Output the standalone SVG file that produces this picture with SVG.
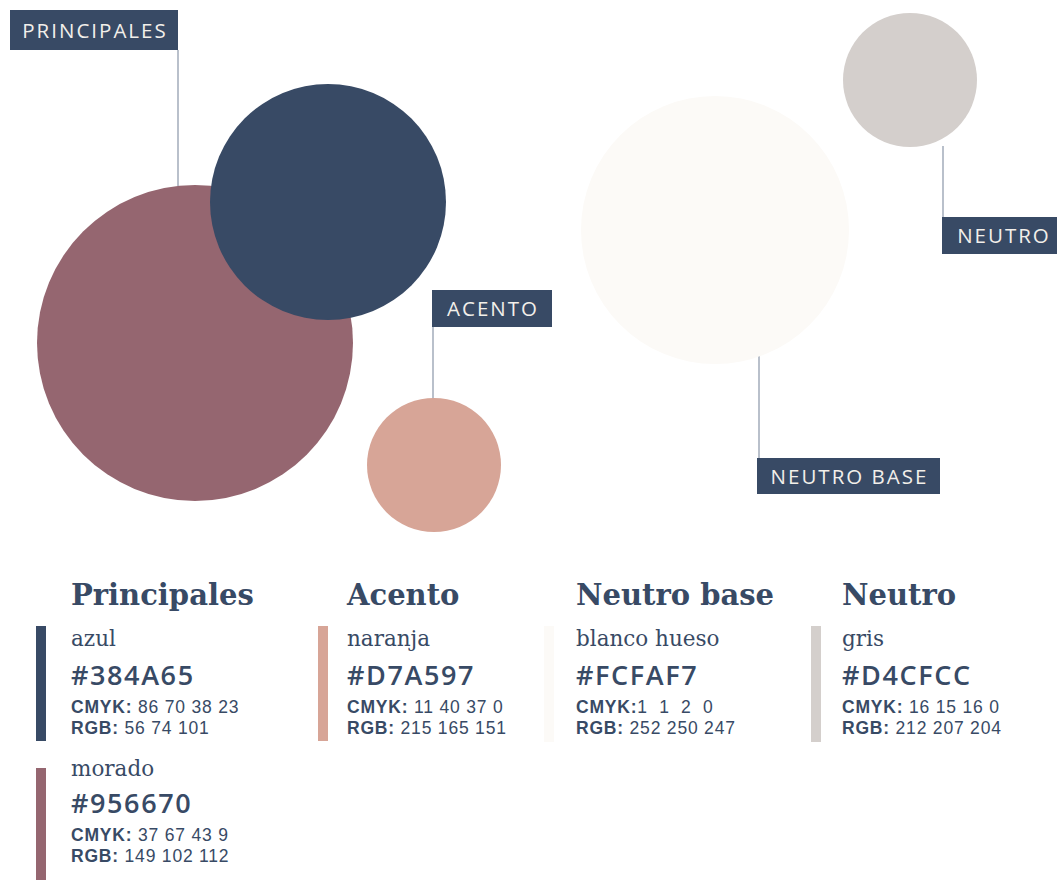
<svg xmlns="http://www.w3.org/2000/svg" width="1057" height="880" viewBox="0 0 1057 880">
<style>
.lbl{fill:#384A65}
.lt{font-family:"Open Sans","Liberation Sans",sans-serif;font-size:20.5px;fill:#F2EFEA;letter-spacing:2px}
.hd{font-family:"DejaVu Serif",serif;font-weight:bold;font-size:29px;fill:#384A65}
.nm{font-family:"DejaVu Serif",serif;font-size:21.5px;fill:#384A65}
.hx{font-family:"Open Sans","Liberation Sans",sans-serif;font-weight:600;font-size:27px;fill:#384A65;letter-spacing:1.6px}
.cd{font-family:"Liberation Sans","Open Sans",sans-serif;font-size:17.5px;fill:#384A65;letter-spacing:0.8px}
.cd tspan.b{font-weight:bold}
.cn{stroke:#8A96A8;stroke-width:1.2;fill:none}
</style>
<rect width="1057" height="880" fill="#FFFFFF"/>
<g id="connectors">
<line class="cn" x1="178" y1="50" x2="178" y2="186"/>
<line class="cn" x1="433" y1="327" x2="433" y2="399"/>
<line class="cn" x1="759" y1="356" x2="759" y2="458"/>
<line class="cn" x1="943" y1="146" x2="943" y2="218"/>
</g>
<g id="circle-morado"><circle cx="195" cy="343" r="158" fill="#956670"/></g>
<g id="circle-azul"><circle cx="328" cy="202" r="118" fill="#384A65"/></g>
<g id="circle-naranja"><circle cx="434" cy="465" r="67" fill="#D7A597"/></g>
<g id="circle-blanco"><circle cx="715" cy="230" r="134" fill="#FCFAF7"/></g>
<g id="circle-gris"><circle cx="910" cy="80" r="67" fill="#D4CFCC"/></g>
<g id="label-principales"><rect class="lbl" x="10" y="10" width="168" height="40"/><text class="lt" x="95" y="37.5" text-anchor="middle">PRINCIPALES</text></g>
<g id="label-acento"><rect class="lbl" x="432" y="290" width="120" height="37"/><text class="lt" x="493" y="316" text-anchor="middle">ACENTO</text></g>
<g id="label-neutro-base"><rect class="lbl" x="757" y="458" width="183" height="36"/><text class="lt" x="849.5" y="484" text-anchor="middle">NEUTRO BASE</text></g>
<g id="label-neutro"><rect class="lbl" x="942" y="217" width="115" height="37"/><text class="lt" x="1004" y="243" text-anchor="middle">NEUTRO</text></g>
<g id="col-principales">
<text class="hd" x="71" y="605">Principales</text>
<rect x="36" y="626" width="10" height="115" fill="#384A65"/>
<text class="nm" x="71" y="646">azul</text>
<text class="hx" x="71" y="685">#384A65</text>
<text class="cd" x="71" y="713"><tspan class="b">CMYK:</tspan> 86 70 38 23</text>
<text class="cd" x="71" y="734"><tspan class="b">RGB:</tspan> 56 74 101</text>
<rect x="36" y="768" width="10" height="112" fill="#956670"/>
<text class="nm" x="71" y="776">morado</text>
<text class="hx" x="71" y="813">#956670</text>
<text class="cd" x="71" y="841"><tspan class="b">CMYK:</tspan> 37 67 43 9</text>
<text class="cd" x="71" y="862"><tspan class="b">RGB:</tspan> 149 102 112</text>
</g>
<g id="col-acento">
<text class="hd" x="347" y="605">Acento</text>
<rect x="318" y="626" width="10" height="115" fill="#D7A597"/>
<text class="nm" x="347" y="646">naranja</text>
<text class="hx" x="347" y="685">#D7A597</text>
<text class="cd" x="347" y="713"><tspan class="b">CMYK:</tspan> 11 40 37 0</text>
<text class="cd" x="347" y="734"><tspan class="b">RGB:</tspan> 215 165 151</text>
</g>
<g id="col-neutro-base">
<text class="hd" x="576" y="605">Neutro base</text>
<rect x="544" y="626" width="10" height="116" fill="#FCFAF7"/>
<text class="nm" x="576" y="646">blanco hueso</text>
<text class="hx" x="576" y="685">#FCFAF7</text>
<text class="cd" x="576" y="713" xml:space="preserve"><tspan class="b">CMYK:</tspan>1  1  2  0</text>
<text class="cd" x="576" y="734"><tspan class="b">RGB:</tspan> 252 250 247</text>
</g>
<g id="col-neutro">
<text class="hd" x="842" y="605">Neutro</text>
<rect x="811" y="626" width="10" height="116" fill="#D4CFCC"/>
<text class="nm" x="842" y="646">gris</text>
<text class="hx" x="842" y="685">#D4CFCC</text>
<text class="cd" x="842" y="713"><tspan class="b">CMYK:</tspan> 16 15 16 0</text>
<text class="cd" x="842" y="734"><tspan class="b">RGB:</tspan> 212 207 204</text>
</g>
</svg>
